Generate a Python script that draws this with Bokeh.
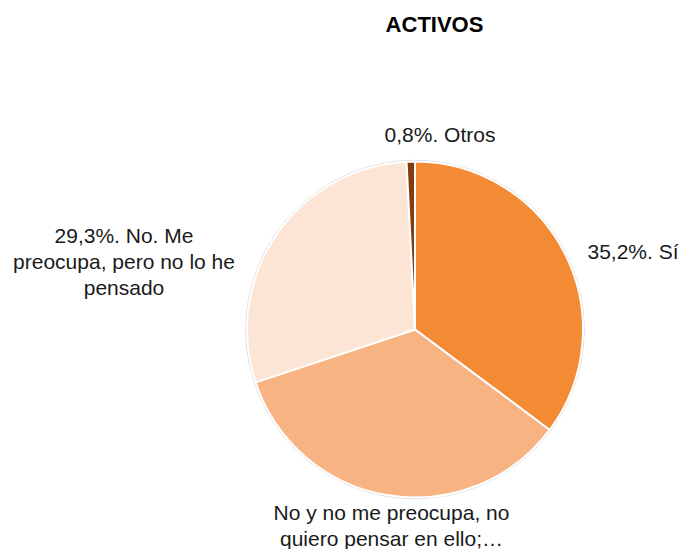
import numpy as np
from bokeh.plotting import figure
from bokeh.models import Range1d, ColumnDataSource
from bokeh.core.properties import value
from bokeh.embed import file_html
from bokeh.resources import INLINE

# ---- data ----
title_text = "ACTIVOS"
categories = ["Sí", "No y no me preocupa, no quiero pensar en ello;…",
              "No. Me preocupa, pero no lo he pensado", "Otros"]
values = [35.2, 34.7, 29.3, 0.8]
labels = ["35,2%. Sí", "No y no me preocupa, no\nquiero pensar en ello;…",
          "29,3%. No. Me\npreocupa, pero no lo he\npensado", "0,8%. Otros"]
colors = ["#F38A34", "#F7B482", "#FDE5D5", "#843C0C"]

# ---- layout (screen-like coordinates, y flipped below) ----
W, H = 684, 549
def sy(y):
    return H - y

cx, cy, r = 414.5, 329.0, 168.0
label_pos = [(587, 251, "left"), (391, 525, "center"), (123.5, 261, "center"), (439.5, 134, "center")]

p = figure(width=W, height=H, output_backend="svg", toolbar_location=None,
           x_range=Range1d(0, W), y_range=Range1d(0, H),
           min_border=0)
p.axis.visible = False
p.grid.visible = False
p.outline_line_color = None
p.background_fill_color = "white"

frac = np.array(values) / np.sum(values)
cum = np.concatenate([[0], np.cumsum(frac)[:-1]])
start = np.pi / 2 - 2 * np.pi * cum
end = start - 2 * np.pi * frac

src = ColumnDataSource(dict(start=start, end=end, color=colors, cat=categories))

# faint outer outline
p.circle(x=[cx], y=[sy(cy)], radius=r + 1.2, fill_color=None,
         line_color="#d4d4d4", line_width=1)
p.wedge(x=cx, y=sy(cy), radius=r, start_angle="start", end_angle="end",
        direction="clock", fill_color="color", line_color="white",
        line_width=2, source=src)

for lab, (lx, ly, al) in zip(labels, label_pos):
    p.text(x=[lx], y=[sy(ly)], text=[lab], text_font=value("Liberation Sans"),
           text_font_size="21px", text_color="#1a1a1a", text_align=al,
           text_baseline="middle", text_line_height=1.15)

p.text(x=[434], y=[sy(24)], text=[title_text], text_font=value("Liberation Sans"),
       text_font_size="22px", text_font_style="bold", text_color="#000000",
       text_align="center", text_baseline="middle")

open("out.html", "w").write(file_html(p, INLINE))
